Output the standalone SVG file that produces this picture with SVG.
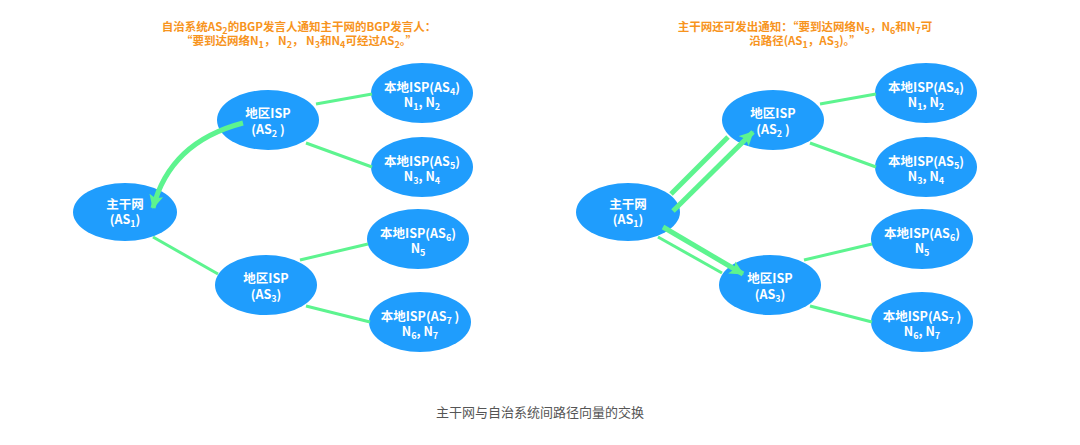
<svg xmlns="http://www.w3.org/2000/svg" width="1080" height="445" viewBox="0 0 1080 445">
<style>
.node{fill:#1f9dfd;}
.nt{font-family:"Noto Sans CJK SC","Liberation Sans",sans-serif;font-weight:bold;font-size:12.5px;fill:#ffffff;text-anchor:middle;}
.title{font-family:"Noto Sans CJK SC","Liberation Sans",sans-serif;font-weight:bold;font-size:11.5px;fill:#f7941d;text-anchor:middle;}
.cap{font-family:"Noto Sans CJK SC","Liberation Sans",sans-serif;font-size:13px;fill:#555555;text-anchor:middle;}
.link{stroke:#5df48f;stroke-width:3;fill:none;}
.thick{stroke:#5df48f;stroke-width:5;fill:none;}
.sub{font-size:9px;}
</style>
<defs>
<marker id="ah" markerUnits="userSpaceOnUse" markerWidth="14" markerHeight="14" refX="13" refY="7" orient="auto">
<path d="M0,0 L14,7 L0,14 L3,7 Z" fill="#5df48f"/>
</marker>
</defs>
<rect width="1080" height="445" fill="#ffffff"/>

<g id="titles">
<text class="title" x="299" y="31">自治系统AS<tspan class="sub" dy="3">2</tspan><tspan dy="-3">的BGP发言人通知主干网的BGP发言人：</tspan></text>
<text class="title" x="299" y="45">“要到达网络N<tspan class="sub" dy="3">1</tspan><tspan dy="-3">， N</tspan><tspan class="sub" dy="3">2</tspan><tspan dy="-3">， N</tspan><tspan class="sub" dy="3">3</tspan><tspan dy="-3">和N</tspan><tspan class="sub" dy="3">4</tspan><tspan dy="-3">可经过AS</tspan><tspan class="sub" dy="3">2</tspan><tspan dy="-3">。”</tspan></text>
<text class="title" x="805" y="31">主干网还可发出通知：“要到达网络N<tspan class="sub" dy="3">5</tspan><tspan dy="-3">，N</tspan><tspan class="sub" dy="3">6</tspan><tspan dy="-3">和N</tspan><tspan class="sub" dy="3">7</tspan><tspan dy="-3">可</tspan></text>
<text class="title" x="805" y="45">沿路径(AS<tspan class="sub" dy="3">1</tspan><tspan dy="-3">，AS</tspan><tspan class="sub" dy="3">3</tspan><tspan dy="-3">)。”</tspan></text>
</g>

<g id="n-backbone-l"><ellipse class="node" cx="125" cy="212" rx="52" ry="29"/><text class="nt" x="125" y="209">主干网</text><text class="nt" x="125" y="224">(AS<tspan class="sub" dy="3">1</tspan><tspan dy="-3">)</tspan></text></g>
<g id="n-as2-l"><ellipse class="node" cx="268" cy="120" rx="51" ry="30"/><text class="nt" x="268" y="118">地区ISP</text><text class="nt" x="268" y="134">(AS<tspan class="sub" dy="3">2</tspan><tspan dy="-3"> )</tspan></text></g>
<g id="n-as3-l"><ellipse class="node" cx="266" cy="285" rx="51" ry="30"/><text class="nt" x="266" y="283">地区ISP</text><text class="nt" x="266" y="299">(AS<tspan class="sub" dy="3">3</tspan><tspan dy="-3">)</tspan></text></g>
<g id="n-as4-l"><ellipse class="node" cx="422" cy="93" rx="51" ry="30"/><text class="nt" x="422" y="92">本地ISP(AS<tspan class="sub" dy="3">4</tspan><tspan dy="-3">)</tspan></text><text class="nt" x="422" y="107">N<tspan class="sub" dy="3">1</tspan><tspan dy="-3">, N</tspan><tspan class="sub" dy="3">2</tspan></text></g>
<g id="n-as5-l"><ellipse class="node" cx="422" cy="167" rx="51" ry="30"/><text class="nt" x="422" y="166">本地ISP(AS<tspan class="sub" dy="3">5</tspan><tspan dy="-3">)</tspan></text><text class="nt" x="422" y="181">N<tspan class="sub" dy="3">3</tspan><tspan dy="-3">, N</tspan><tspan class="sub" dy="3">4</tspan></text></g>
<g id="n-as6-l"><ellipse class="node" cx="418" cy="239" rx="51" ry="30"/><text class="nt" x="418" y="238">本地ISP(AS<tspan class="sub" dy="3">6</tspan><tspan dy="-3">)</tspan></text><text class="nt" x="418" y="253">N<tspan class="sub" dy="3">5</tspan></text></g>
<g id="n-as7-l"><ellipse class="node" cx="420" cy="322" rx="51" ry="30"/><text class="nt" x="420" y="321">本地ISP(AS<tspan class="sub" dy="3">7</tspan><tspan dy="-3"> )</tspan></text><text class="nt" x="420" y="336">N<tspan class="sub" dy="3">6</tspan><tspan dy="-3">, N</tspan><tspan class="sub" dy="3">7</tspan></text></g>

<g id="n-backbone-r"><ellipse class="node" cx="628" cy="212" rx="52" ry="29"/><text class="nt" x="628" y="209">主干网</text><text class="nt" x="628" y="224">(AS<tspan class="sub" dy="3">1</tspan><tspan dy="-3">)</tspan></text></g>
<g id="n-as2-r"><ellipse class="node" cx="773" cy="120" rx="51" ry="30"/><text class="nt" x="773" y="118">地区ISP</text><text class="nt" x="773" y="134">(AS<tspan class="sub" dy="3">2</tspan><tspan dy="-3"> )</tspan></text></g>
<g id="n-as3-r"><ellipse class="node" cx="770" cy="285" rx="51" ry="30"/><text class="nt" x="770" y="283">地区ISP</text><text class="nt" x="770" y="299">(AS<tspan class="sub" dy="3">3</tspan><tspan dy="-3">)</tspan></text></g>
<g id="n-as4-r"><ellipse class="node" cx="926" cy="93" rx="51" ry="30"/><text class="nt" x="926" y="92">本地ISP(AS<tspan class="sub" dy="3">4</tspan><tspan dy="-3">)</tspan></text><text class="nt" x="926" y="107">N<tspan class="sub" dy="3">1</tspan><tspan dy="-3">, N</tspan><tspan class="sub" dy="3">2</tspan></text></g>
<g id="n-as5-r"><ellipse class="node" cx="926" cy="167" rx="51" ry="30"/><text class="nt" x="926" y="166">本地ISP(AS<tspan class="sub" dy="3">5</tspan><tspan dy="-3">)</tspan></text><text class="nt" x="926" y="181">N<tspan class="sub" dy="3">3</tspan><tspan dy="-3">, N</tspan><tspan class="sub" dy="3">4</tspan></text></g>
<g id="n-as6-r"><ellipse class="node" cx="922" cy="239" rx="51" ry="30"/><text class="nt" x="922" y="238">本地ISP(AS<tspan class="sub" dy="3">6</tspan><tspan dy="-3">)</tspan></text><text class="nt" x="922" y="253">N<tspan class="sub" dy="3">5</tspan></text></g>
<g id="n-as7-r"><ellipse class="node" cx="922" cy="322" rx="51" ry="30"/><text class="nt" x="922" y="321">本地ISP(AS<tspan class="sub" dy="3">7</tspan><tspan dy="-3"> )</tspan></text><text class="nt" x="922" y="336">N<tspan class="sub" dy="3">6</tspan><tspan dy="-3">, N</tspan><tspan class="sub" dy="3">7</tspan></text></g>

<g id="connectors">
<line class="link" x1="316" y1="104" x2="372" y2="94"/>
<line class="link" x1="306" y1="143" x2="372" y2="167"/>
<line class="link" x1="153" y1="237" x2="218" y2="274"/>
<line class="link" x1="300" y1="260" x2="368" y2="244"/>
<line class="link" x1="306" y1="306" x2="370" y2="322"/>
<path class="thick" d="M243,123 Q170,142 153,208" marker-end="url(#ah)"/>

<line class="link" x1="820" y1="104" x2="876" y2="94"/>
<line class="link" x1="810" y1="143" x2="876" y2="167"/>
<line class="link" x1="658" y1="237" x2="722" y2="273"/>
<line class="link" x1="804" y1="260" x2="872" y2="244"/>
<line class="link" x1="810" y1="306" x2="872" y2="322"/>
<line class="thick" x1="671" y1="194" x2="728" y2="137"/>
<line class="thick" x1="673" y1="211" x2="753" y2="132" marker-end="url(#ah)"/>
<line class="thick" x1="663" y1="227" x2="743" y2="274" marker-end="url(#ah)"/>
</g>

<text class="cap" x="540" y="417">主干网与自治系统间路径向量的交换</text>
</svg>
